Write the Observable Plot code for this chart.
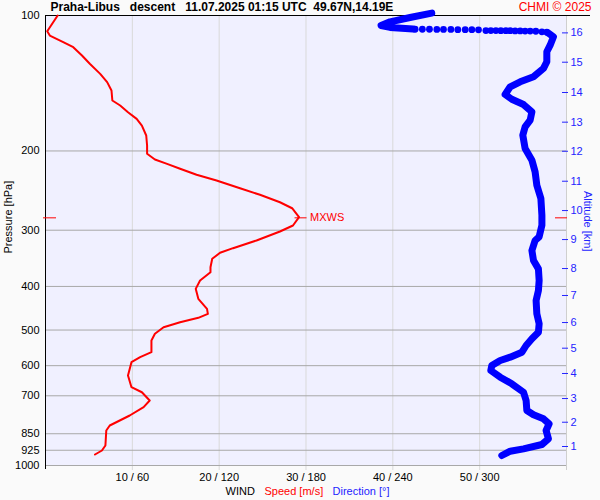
<!DOCTYPE html>
<html>
<head>
<meta charset="utf-8">
<script src="https://cdn.jsdelivr.net/npm/d3@7"></script>
<script src="https://cdn.jsdelivr.net/npm/@observablehq/plot@0.6"></script>
<style>
  html, body { margin: 0; padding: 0; background: #fafafa; }
  #chart { width: 600px; height: 500px; }
</style>
</head>
<body>
<div id="chart"></div>
<script>
// ---- Data ----
const titleText = "Praha-Libus\u00a0\u00a0\u00a0descent\u00a0\u00a0\u00a011.07.2025 01:15 UTC\u00a0\u00a049.67N,14.19E";
const creditText = "CHMI \u00a9 2025";

const presTicks = [100, 200, 300, 400, 500, 600, 700, 850, 925, 1000];
const speedTicks = [10, 20, 30, 40, 50];
const speedMax = 60;

// wind speed [m/s] vs pressure [hPa]
const speedPres = [100,108.4,110.8,114.7,117.6,122.7,128.0,134.8,140.6,146.8,154.5,158.5,164.0,169.7,175.6,184.8,194.5,202.9,208.9,213.6,219.1,225.9,232.6,242.0,250.3,260.0,268.1,280.7,292.9,302.0,316.2,328.9,336.8,347.3,362.5,372.0,388.2,405.0,426.3,448.6,460.2,469.7,480.4,492.8,509.8,527.5,560.0,574.5,589.3,631.0,669.9,687.4,717.1,742.0,774.3,814.9,836.1,902.7,926.1,945.3];
const speedVal  = [1.4,0.2,0.5,2.1,3.2,4.2,5.1,6.3,7.1,7.6,7.7,8.6,9.5,10.5,11.1,11.6,11.7,11.7,12.6,14.0,15.5,17.4,19.7,22.4,24.7,27.0,28.4,29.2,28.5,27.0,24.3,21.6,20.1,19.2,19.0,19.0,17.8,17.3,17.6,18.6,18.7,17.6,15.5,13.6,12.6,12.2,12.2,10.9,9.9,9.5,9.9,11.1,12.0,11.3,9.7,7.4,7.0,6.9,6.5,5.7];

// wind direction [deg] vs pressure — top loop (continuous)
const dirTopPres = [98.8,101.0,103.3,105.3,106.3,107.2];
const dirTopVal  = [266.9,251.9,238.1,231.9,238.1,254.0];
// sparse points (drawn as separate dots)
const dirDotPres = [107.3,107.3,107.3,107.4,107.4,107.4,107.5,107.5,107.5,107.6,108.0,108.0,108.0,108.1,108.1,108.1,108.2,108.2,108.3,108.3,108.4,108.7,108.9];
const dirDotVal  = [255.4,260.4,265.3,270.4,275.0,280.1,284.9,290.0,294.6,299.2,304.3,307.7,311.2,314.6,318.1,321.1,324.5,328.0,331.4,334.9,338.8,343.0,346.4];
// main continuous part
const dirMainPres = [109.5,111.5,116.4,120.4,126.7,131.1,136.8,140.4,144.0,149.8,153.5,157.7,163.7,170.8,176.8,184.5,197.5,209.7,222.5,238.3,255.1,277.8,292.4,310.3,316.2,332.9,350.3,365.6,388.2,408.4,429.9,460.2,484.2,505.6,522.9,541.2,560.0,574.5,584.3,599.5,615.0,636.4,658.3,687.4,717.1,754.5,771.3,787.3,807.8,836.1,872.3,898.1,918.2,929.5,950.1];
const dirMainVal  = [347.5,351.0,348.7,346.4,346.4,344.1,337.2,328.0,321.1,317.6,322.2,330.3,336.1,334.9,331.4,329.8,331.4,336.1,338.3,339.5,342.3,343.0,343.0,341.1,338.3,336.1,337.2,340.6,341.1,340.6,339.0,339.5,341.1,340.6,336.1,332.1,329.2,321.1,314.2,308.4,307.7,314.2,322.2,330.3,332.1,332.6,337.2,344.1,348.0,345.9,347.5,343.0,330.3,321.1,315.3];

// altitude ticks [km] and their pressure levels [hPa]
const altKm   = [1,2,3,4,5,6,7,8,9,10,11,12,13,14,15,16];
const altPres = [907.4,801.4,709.9,624.5,548.7,481.2,419.0,365.0,314.7,271.3,233.5,200.3,172.6,148.3,127.0,109.3];

// maximum wind
const maxWindPres = 281.6;
const maxWindSpeed = 29.2;

// ---- Build tables ----
const speedData = speedPres.map((p, i) => ({p, v: speedVal[i]}));
const toRow = (P, D) => P.map((p, i) => ({p, v: D[i] / 6}));
const dirTop = toRow(dirTopPres, dirTopVal);
const dirDots = toRow(dirDotPres, dirDotVal);
const dirMain = toRow(dirMainPres, dirMainVal);
const maxWind = [{p: maxWindPres, v: maxWindSpeed}];

const RED = "#ff0000";
const BLUE = "#0000ff";
const BLUE_TXT = "#2424ff";

const chart = Plot.plot({
  width: 600,
  height: 500,
  marginTop: 15,
  marginBottom: 35,
  marginLeft: 45,
  marginRight: 34,
  style: {background: "#fafafa", fontFamily: "'Liberation Sans', Arial, sans-serif", fontSize: "11px", color: "#000"},
  x: {domain: [0, speedMax], axis: null},
  y: {type: "log", domain: [100, 1000], reverse: true, axis: null},
  marks: [
    Plot.frame({fill: "#f0f0ff", stroke: null}),
    // vertical grid
    Plot.ruleX(speedTicks, {stroke: "#d9d9d9", insetBottom: -5}),
    Plot.ruleX([speedMax], {stroke: "#cfcfcf", insetBottom: -5}),
    // horizontal grid
    Plot.ruleY(presTicks.filter(d => d > 100), {stroke: "#a8a8a8"}),
    // axis lines
    Plot.ruleX([0], {stroke: "black", insetBottom: -4}),
    Plot.ruleY([100], {stroke: "black", insetRight: -24}),
    // left pressure axis
    Plot.axisY(presTicks, {anchor: "left", tickSize: 0, tickPadding: 6, label: null, tickFormat: d => String(d), fontSize: 11}),
    // bottom axis
    Plot.axisX(speedTicks, {anchor: "bottom", tickSize: 0, tickPadding: 8, label: null, tickFormat: d => `${d} / ${d * 6}`, fontSize: 11}),
    // right altitude axis
    Plot.axisY(altPres, {anchor: "right", tickSize: 6, tickPadding: 3, dx: -5, label: null, stroke: BLUE_TXT, fill: BLUE_TXT, tickFormat: d => String(altKm[altPres.indexOf(d)]), fontSize: 11}),
    // direction
    Plot.line(dirTop, {x: "v", y: "p", stroke: BLUE, strokeWidth: 7, strokeLinecap: "round", strokeLinejoin: "round"}),
    Plot.dot(dirDots, {x: "v", y: "p", r: 3.4, fill: BLUE, stroke: null}),
    Plot.line(dirMain, {x: "v", y: "p", stroke: BLUE, strokeWidth: 7, strokeLinecap: "round", strokeLinejoin: "round"}),
    // speed
    Plot.line(speedData, {x: "v", y: "p", stroke: RED, strokeWidth: 2}),
    // max wind markers
    Plot.ruleY(maxWind, {y: "p", x1: "v", x2: "v", insetLeft: -4, insetRight: -8, stroke: RED}),
    Plot.text(maxWind, {y: "p", x: "v", text: () => "MXWS", dx: 11, textAnchor: "start", fill: RED, fontSize: 11}),
    Plot.ruleY(maxWind, {y: "p", x1: 0, x2: 0, insetLeft: -2, insetRight: -11, stroke: RED}),
    Plot.ruleY(maxWind, {y: "p", x1: speedMax, x2: speedMax, insetLeft: -11, insetRight: -1, stroke: RED}),
    // axis titles
    Plot.text(["Pressure [hPa]"], {frameAnchor: "left", rotate: -90, dx: -37, dy: 13, fontSize: 11, fill: "black"}),
    Plot.text(["Altitude [km]"], {frameAnchor: "right", rotate: 90, dx: 21, dy: 11, fontSize: 11, fill: BLUE_TXT}),
    // title and credit
    Plot.text([titleText], {frameAnchor: "top-left", dx: 5, dy: -8, textAnchor: "start", lineAnchor: "middle", fontWeight: "bold", fontSize: 12, fill: "black"}),
    Plot.text([creditText], {frameAnchor: "top-right", dx: 25, dy: -8, textAnchor: "end", lineAnchor: "middle", fontSize: 12, fill: RED}),
    // bottom legend
    Plot.text(["WIND"], {frameAnchor: "bottom-left", dx: 180, dy: 26, textAnchor: "start", lineAnchor: "middle", fontSize: 11, fill: "black"}),
    Plot.text(["Speed [m/s]"], {frameAnchor: "bottom-left", dx: 219, dy: 26, textAnchor: "start", lineAnchor: "middle", fontSize: 11, fill: RED}),
    Plot.text(["Direction [\u00b0]"], {frameAnchor: "bottom-left", dx: 287, dy: 26, textAnchor: "start", lineAnchor: "middle", fontSize: 11, fill: BLUE_TXT})
  ]
});
document.getElementById("chart").appendChild(chart);
</script>
</body>
</html>
